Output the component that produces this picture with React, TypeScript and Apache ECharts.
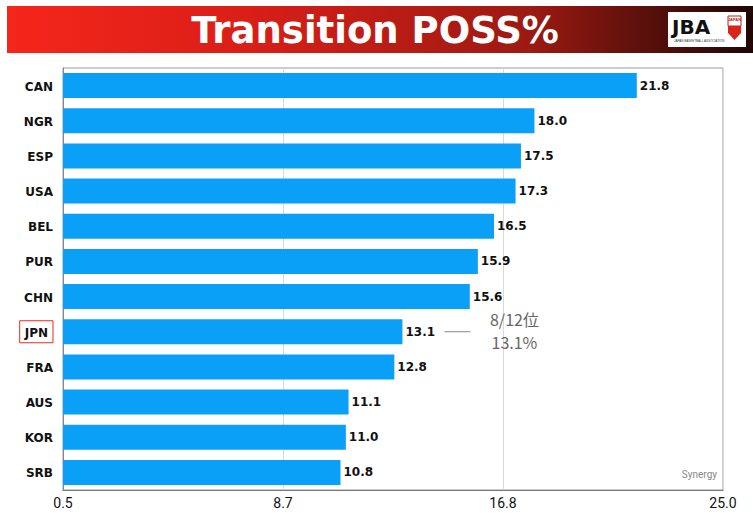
import React, { useEffect, useRef } from "react";
import * as echarts from "echarts";

const categories = ["CAN", "NGR", "ESP", "USA", "BEL", "PUR", "CHN", "JPN", "FRA", "AUS", "KOR", "SRB"];
const values = [21.8, 18.0, 17.5, 17.3, 16.5, 15.9, 15.6, 13.1, 12.8, 11.1, 11.0, 10.8];
const xTicks = [0.5, 8.6667, 16.8333, 25.0];
const highlight = "JPN";
const rankText = ["8/12位", "13.1%"];

const heavy = "'DejaVu Sans', Verdana, sans-serif";

export default function App() {
  const ref = useRef<HTMLDivElement>(null);
  useEffect(() => {
    const chart = echarts.init(ref.current!, null, { renderer: "svg" });
    chart.setOption({
      animation: false,
      grid: {
        left: 63, right: 30, top: 68, bottom: 23, show: true,
        borderColor: "#9a9a9a", borderWidth: 1,
      },
      xAxis: {
        type: "value", min: 0.5, max: 25,
        axisLine: { show: true, lineStyle: { color: "#777", width: 1 } },
        axisTick: { show: false, customValues: xTicks },
        axisLabel: {
          customValues: xTicks,
          formatter: (v: number) => v.toFixed(1),
          color: "#111", fontSize: 14, margin: 6,
          fontFamily: "'Liberation Sans Narrow', Roboto, sans-serif",
        },
        splitLine: { show: true, lineStyle: { color: "#d9d9d9", width: 1 } },
      },
      yAxis: {
        type: "category", data: categories, inverse: true,
        axisLine: { show: true, lineStyle: { color: "#888" } },
        axisTick: { show: false },
        axisLabel: {
          margin: 10,
          formatter: (v: string) => (v === highlight ? `{hl|${v}}` : `{n|${v}}`),
          rich: {
            n: { fontSize: 12, fontWeight: "bold", color: "#111", fontFamily: heavy, padding: [2, 0, 0, 0] },
            hl: {
              fontSize: 12, fontWeight: "bold", color: "#111", fontFamily: heavy,
              borderColor: "#e8281e", borderWidth: 1, padding: [6, 5, 4, 5],
            },
          },
        },
      },
      series: [
        {
          type: "bar", data: values, barCategoryGap: "29%",
          itemStyle: { color: "#0aa0f8" },
          label: {
            show: true, position: "right", distance: 3,
            formatter: (p: any) => Number(p.value).toFixed(1),
            fontSize: 12, fontWeight: "bold", color: "#111",
            fontFamily: heavy, padding: [2, 0, 0, 0],
          },
        },
      ],
    });
    const idx = categories.indexOf(highlight);
    const pt = chart.convertToPixel({ gridIndex: 0 }, [values[idx], categories[idx]]) as number[];
    chart.setOption({
      graphic: [
        {
          type: "rect", left: 7, top: 6, shape: { width: 746, height: 47 },
          style: {
            fill: new echarts.graphic.LinearGradient(0, 0, 1, 0, [
              { offset: 0, color: "#f5261b" },
              { offset: 0.3, color: "#dc1f18" },
              { offset: 0.7, color: "#9c1a12" },
              { offset: 1, color: "#1e0604" },
            ]),
          },
          silent: true,
        },
        {
          type: "text", x: 375, y: 30,
          style: {
            text: "Transition POSS%", fill: "#fff", fontSize: 37, fontWeight: "bold",
            fontFamily: heavy, align: "center", verticalAlign: "middle",
          },
        },
        { type: "rect", shape: { x: 668, y: 12, width: 78, height: 35 }, style: { fill: "#fff" } },
        {
          type: "text", x: 672, y: 27,
          style: { text: "JBA", fill: "#111", fontSize: 20, fontWeight: "bold", fontFamily: heavy, verticalAlign: "middle" },
        },
        {
          type: "text", x: 674, y: 41,
          style: { text: "JAPAN BASKETBALL ASSOCIATION", fill: "#333", fontSize: 3, fontFamily: "Arial, sans-serif", verticalAlign: "middle" },
        },
        { type: "rect", shape: { x: 728, y: 16, width: 13, height: 10 }, style: { fill: "#fff", stroke: "#c0201a", lineWidth: 1 } },
        {
          type: "text", x: 734.5, y: 19,
          style: { text: "JAPAN", fill: "#c0201a", fontSize: 4, fontWeight: "bold", align: "center", verticalAlign: "middle" },
        },
        { type: "polygon", shape: { points: [[728, 26], [741, 26], [741, 33], [734.5, 40], [728, 33]] }, style: { fill: "#d9231b" } },
        {
          type: "line", shape: { x1: pt[0] + 42, y1: pt[1], x2: pt[0] + 68, y2: pt[1] },
          style: { stroke: "#888", lineWidth: 1 },
        },
        {
          type: "text", x: pt[0] + 112, y: pt[1] - 13,
          style: { text: rankText[0], fill: "#666", fontSize: 16, fontFamily: "'Noto Sans CJK JP', sans-serif", align: "center", verticalAlign: "middle" },
        },
        {
          type: "text", x: pt[0] + 112, y: pt[1] + 10,
          style: { text: rankText[1], fill: "#666", fontSize: 16, fontFamily: "'Noto Sans CJK JP', sans-serif", align: "center", verticalAlign: "middle" },
        },
        {
          type: "text", x: 717, y: 474,
          style: { text: "Synergy", fill: "#888", fontSize: 10, fontFamily: "'Liberation Sans Narrow', Roboto, sans-serif", align: "right", verticalAlign: "middle" },
        },
      ],
    });
    return () => chart.dispose();
  }, []);
  return (
    <div
      ref={ref}
      style={{ position: "fixed", left: 0, top: 0, width: 753, height: 513, background: "#fff" }}
    />
  );
}
